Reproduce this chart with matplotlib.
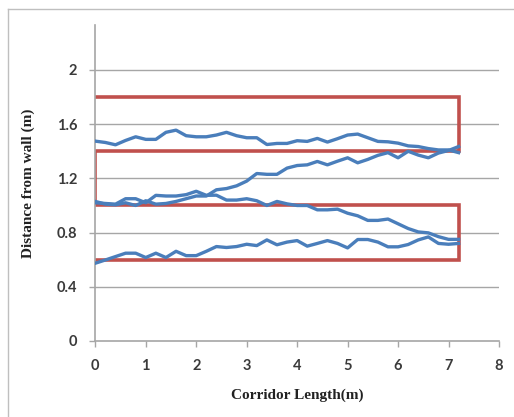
import matplotlib
matplotlib.use("Agg")
import matplotlib.pyplot as plt
from matplotlib.lines import Line2D

x = [round(0.2 * i, 1) for i in range(37)]

series_top = [1.475, 1.465, 1.448, 1.48, 1.507, 1.488, 1.488, 1.54, 1.556, 1.515,
              1.507, 1.507, 1.52, 1.54, 1.515, 1.50, 1.50, 1.45, 1.458, 1.458,
              1.478, 1.473, 1.495, 1.468, 1.493, 1.52, 1.527, 1.50, 1.473, 1.47,
              1.46, 1.44, 1.435, 1.42, 1.41, 1.41, 1.39]

series_rise = [1.03, 1.01, 1.005, 1.02, 1.0, 1.035, 1.01, 1.015, 1.03, 1.05,
               1.07, 1.07, 1.116, 1.125, 1.145, 1.18, 1.236, 1.23, 1.23, 1.276,
               1.295, 1.30, 1.325, 1.30, 1.327, 1.352, 1.315, 1.34, 1.37, 1.39,
               1.352, 1.40, 1.372, 1.352, 1.387, 1.406, 1.435]

series_fall = [1.02, 1.015, 1.01, 1.05, 1.05, 1.02, 1.075, 1.07, 1.07, 1.08,
               1.105, 1.075, 1.076, 1.04, 1.04, 1.05, 1.035, 1.0, 1.03, 1.012,
               1.0, 1.0, 0.968, 0.968, 0.973, 0.943, 0.924, 0.89, 0.89, 0.90,
               0.865, 0.83, 0.805, 0.798, 0.77, 0.75, 0.75]

series_low = [0.574, 0.598, 0.623, 0.648, 0.648, 0.616, 0.648, 0.616, 0.662, 0.63,
              0.63, 0.662, 0.697, 0.69, 0.697, 0.714, 0.704, 0.746, 0.71, 0.73,
              0.741, 0.70, 0.72, 0.741, 0.72, 0.687, 0.749, 0.749, 0.73, 0.695,
              0.695, 0.712, 0.746, 0.768, 0.72, 0.714, 0.72]

# serpentine boundary path (corridor lanes)
path_x = [0, 7.2, 7.2, 0, 0, 7.2, 7.2, 0]
path_y = [1.8, 1.8, 1.4, 1.4, 1.0, 1.0, 0.6, 0.6]

xticks = [0, 1, 2, 3, 4, 5, 6, 7, 8]
yticks = [0, 0.4, 0.8, 1.2, 1.6, 2]
ytick_labels = ["0", "0.4", "0.8", "1.2", "1.6", "2"]

W, H = 514, 417
fig = plt.figure(figsize=(W / 100, H / 100), dpi=100)
ax = fig.add_axes([95.3 / W, 1 - 341 / H, (499 - 95.3) / W, (341 - 25) / H])

ax.set_xlim(0, 8)
ax.set_ylim(0, 2.332)

grid_c = "#A6A6A6"
for yv in yticks[1:]:
    ax.axhline(yv, color=grid_c, lw=1.0, zorder=1)

ax.plot(path_x, path_y, color="#C0504D", lw=2.6, zorder=2, solid_joinstyle="miter")

blue = "#4A7EBB"
for s in (series_top, series_rise, series_fall, series_low):
    ax.plot(x, s, color=blue, lw=2.4, zorder=3, solid_joinstyle="round")

for side in ("top", "right"):
    ax.spines[side].set_visible(False)
for side in ("left", "bottom"):
    ax.spines[side].set_color(grid_c)
    ax.spines[side].set_linewidth(1.2)

ax.set_xticks(xticks)
ax.set_xticklabels([str(v) for v in xticks])
ax.set_yticks(yticks)
ax.set_yticklabels(ytick_labels)
ax.tick_params(axis="both", direction="out", length=4, width=1.0, color=grid_c,
               labelsize=10.5, labelcolor="#3a3a3a")
ax.tick_params(axis="x", pad=9)
ax.tick_params(axis="y", pad=9)
for lab in ax.get_xticklabels() + ax.get_yticklabels():
    lab.set_fontfamily("Lato")
    lab.set_fontweight("bold")

ax.set_xlabel("Corridor Length(m)", fontfamily="Liberation Serif", fontweight="bold",
              fontsize=11, color="#222222", labelpad=11)
ax.set_ylabel("Distance from wall (m)", fontfamily="Liberation Serif", fontweight="bold",
              fontsize=11, color="#222222", labelpad=16)

# outer chart border (partially clipped like the reference)
fig.add_artist(Line2D([8 / W, 8 / W], [0, 1 - 9 / H], color="#BFBFBF", lw=1.0,
                      transform=fig.transFigure))
fig.add_artist(Line2D([8 / W, 1], [1 - 9 / H, 1 - 9 / H], color="#BFBFBF", lw=1.0,
                      transform=fig.transFigure))

fig.savefig("out.png", dpi=100)
